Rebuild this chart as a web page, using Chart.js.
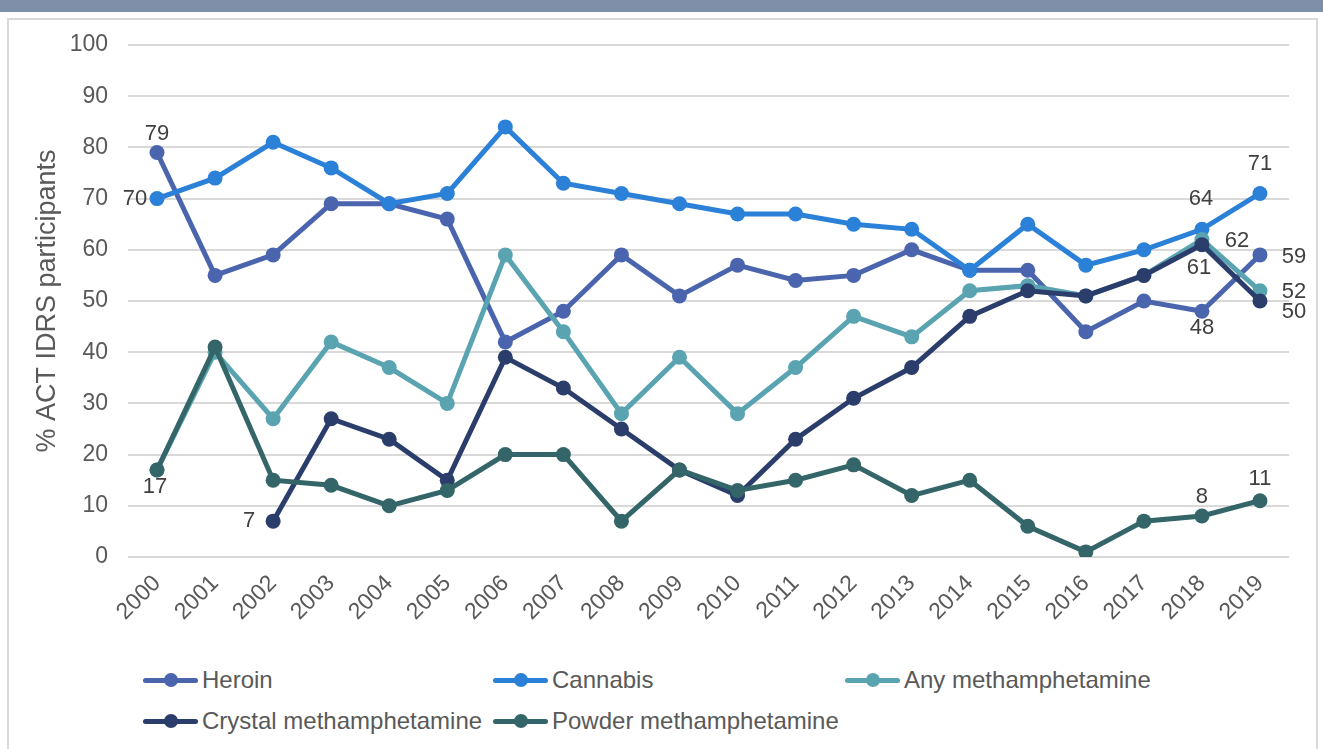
<!DOCTYPE html>
<html>
<head>
<meta charset="utf-8">
<script src="https://cdn.jsdelivr.net/npm/chart.js@4.4.1/dist/chart.umd.min.js"></script>
<style>
  html, body { margin: 0; padding: 0; background: #fff; }
  body { width: 1323px; height: 749px; position: relative; overflow: hidden; font-family: "Liberation Sans", Arial, sans-serif; }
  .topbar { position: absolute; left: 0; top: 0; width: 1323px; height: 12px; background: #7f8fa9; }
  .frame { position: absolute; left: 7px; top: 18px; width: 1307px; height: 760px; border: 2px solid #d9d9d9; }
  #chart { position: absolute; left: 8px; top: 19px; }
  .legend { position: absolute; left: 0; top: 0; }
  .legend-item { position: absolute; display: flex; align-items: center; font-size: 24px; color: #595959; white-space: nowrap; }
  .legend-mark { position: relative; width: 55px; height: 14px; margin-right: 4px; }
  .legend-mark .ln { position: absolute; left: 0; right: 0; top: 4.5px; height: 5px; border-radius: 3px; }
  .legend-mark .dt { position: absolute; left: 21px; top: 0; width: 14px; height: 14px; border-radius: 50%; }
</style>
</head>
<body>
<div class="topbar"></div>
<div class="frame"></div>
<canvas id="chart" width="1308" height="640"></canvas>
<div class="legend" id="legend"></div>
<script>
const years = ["2000", "2001", "2002", "2003", "2004", "2005", "2006", "2007", "2008", "2009",
  "2010", "2011", "2012", "2013", "2014", "2015", "2016", "2017", "2018", "2019"];
const heroin = [79, 55, 59, 69, 69, 66, 42, 48, 59, 51, 57, 54, 55, 60, 56, 56, 44, 50, 48, 59];
const cannabis = [70, 74, 81, 76, 69, 71, 84, 73, 71, 69, 67, 67, 65, 64, 56, 65, 57, 60, 64, 71];
const anyMeth = [17, 40, 27, 42, 37, 30, 59, 44, 28, 39, 28, 37, 47, 43, 52, 53, 51, 55, 62, 52];
const crystalMeth = [null, null, 7, 27, 23, 15, 39, 33, 25, 17, 12, 23, 31, 37, 47, 52, 51, 55, 61, 50];
const powderMeth = [17, 41, 15, 14, 10, 13, 20, 20, 7, 17, 13, 15, 18, 12, 15, 6, 1, 7, 8, 11];
const yTicks = [0, 10, 20, 30, 40, 50, 60, 70, 80, 90, 100];

const series = [
  { label: "Heroin", data: heroin, color: "#4a64ae" },
  { label: "Cannabis", data: cannabis, color: "#2b80d7" },
  { label: "Any methamphetamine", data: anyMeth, color: "#5aa4b1" },
  { label: "Crystal methamphetamine", data: crystalMeth, color: "#2b3d6b" },
  { label: "Powder methamphetamine", data: powderMeth, color: "#346568" },
];

// which points carry a value label, and where it sits relative to the point
const pointLabels = [
  { s: 0, i: 0, dx: 0, dy: -19 },
  { s: 0, i: 18, dx: 0, dy: 17 },
  { s: 0, i: 19, dx: 34, dy: 2 },
  { s: 1, i: 0, dx: -22, dy: 0 },
  { s: 1, i: 18, dx: -1, dy: -30 },
  { s: 1, i: 19, dx: 0, dy: -30 },
  { s: 2, i: 18, dx: 35, dy: 1 },
  { s: 2, i: 19, dx: 34, dy: 1 },
  { s: 3, i: 2, dx: -24, dy: 0 },
  { s: 3, i: 18, dx: -3, dy: 23 },
  { s: 3, i: 19, dx: 34, dy: 11 },
  { s: 4, i: 0, dx: -2, dy: 17 },
  { s: 4, i: 18, dx: 0, dy: -19 },
  { s: 4, i: 19, dx: 0, dy: -22 },
];

const labelPlugin = {
  id: "pointLabels",
  afterDatasetsDraw(chart) {
    const ctx = chart.ctx;
    ctx.save();
    ctx.font = "22px 'Liberation Sans', Arial, sans-serif";
    ctx.fillStyle = "#404040";
    ctx.textAlign = "center";
    ctx.textBaseline = "middle";
    pointLabels.forEach((p) => {
      const el = chart.getDatasetMeta(p.s).data[p.i];
      const v = series[p.s].data[p.i];
      ctx.fillText(String(v), el.x + p.dx, el.y + p.dy);
    });
    ctx.restore();
  },
};

const tickFont = { family: "'Liberation Sans', Arial, sans-serif", size: 23 };

new Chart(document.getElementById("chart").getContext("2d"), {
  type: "line",
  data: {
    labels: years,
    datasets: series.map((s, k) => ({
      label: s.label,
      data: s.data,
      borderColor: s.color,
      backgroundColor: s.color,
      borderWidth: 5,
      pointRadius: 7.5,
      pointHoverRadius: 7.5,
      pointBorderWidth: 0,
      tension: 0,
      spanGaps: false,
      order: series.length - k,
    })),
  },
  options: {
    responsive: false,
    animation: false,
    layout: { padding: { left: 0, right: 27, top: 26, bottom: 0 } },
    plugins: { legend: { display: false }, tooltip: { enabled: false } },
    scales: {
      x: {
        offset: true,
        grid: { display: false },
        border: { display: false },
        ticks: { color: "#595959", font: tickFont, minRotation: 45, maxRotation: 45, padding: 5, autoSkip: false },
        afterFit: (s) => { s.height = 102; },
      },
      y: {
        min: 0,
        max: 100,
        afterBuildTicks: (s) => { s.ticks = yTicks.map((v) => ({ value: v })); },
        grid: { color: "#d9d9d9", lineWidth: 2, drawTicks: false },
        border: { display: false },
        ticks: { color: "#595959", font: tickFont, padding: 20 },
        title: { display: true, text: "% ACT IDRS participants", color: "#595959", font: { family: tickFont.family, size: 27 }, padding: { top: 23, bottom: 0 } },
        afterFit: (s) => { s.width = 120; s.paddingTop = 0; s.paddingBottom = 0; },
      },
    },
  },
  plugins: [labelPlugin],
});

// legend laid out in Excel's three-column grid
const legendPos = [
  { x: 143, y: 680 }, { x: 493, y: 680 }, { x: 845, y: 680 },
  { x: 143, y: 721 }, { x: 493, y: 721 },
];
document.getElementById("legend").innerHTML = series
  .map((s, k) => `
  <div class="legend-item" style="left:${legendPos[k].x}px;top:${legendPos[k].y - 14}px;height:28px">
    <span class="legend-mark"><span class="ln" style="background:${s.color}"></span><span class="dt" style="background:${s.color}"></span></span>${s.label}
  </div>`)
  .join("");
</script>
</body>
</html>
